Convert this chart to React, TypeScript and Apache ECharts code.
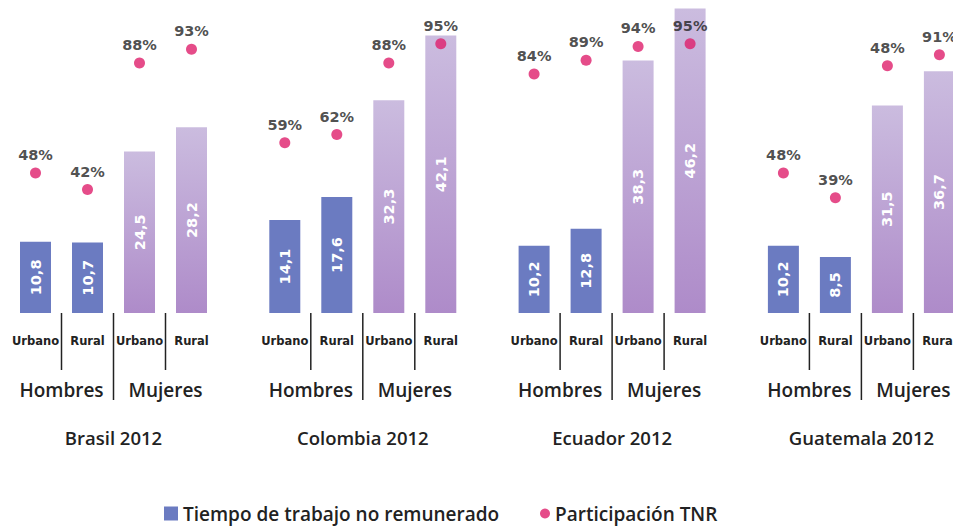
import React, { useEffect, useRef } from "react";
import * as echarts from "echarts";

const countries = ["Brasil 2012", "Colombia 2012", "Ecuador 2012", "Guatemala 2012"];
const categories = ["Urbano", "Rural", "Urbano", "Rural"];
const groups = ["Hombres", "Mujeres"];
const tiempo = [
  [10.8, 10.7, 24.5, 28.2],
  [14.1, 17.6, 32.3, 42.1],
  [10.2, 12.8, 38.3, 46.2],
  [10.2, 8.5, 31.5, 36.7],
];
const participacion = [
  [48, 42, 88, 93],
  [59, 62, 88, 95],
  [84, 89, 94, 95],
  [48, 39, 87, 91],
];
const participacionLabels = [
  ["48%", "42%", "88%", "93%"],
  ["59%", "62%", "88%", "95%"],
  ["84%", "89%", "94%", "95%"],
  ["48%", "39%", "48%", "91%"],
];
const BAR_NAME = "Tiempo de trabajo no remunerado";
const DOT_NAME = "Participación TNR";

const FONT = "Open Sans";
const BOLD_FONT = "DejaVu Sans";
const BLUE = "#6b7bc1";
const PINK = "#de1f6c";
const TEXT = "#222222";

export default function App() {
  const ref = useRef<HTMLDivElement>(null);
  useEffect(() => {
    if (!ref.current) return;
    const chart = echarts.init(ref.current, null, { renderer: "svg" });
    const grids: any[] = [];
    const xAxes: any[] = [];
    const yAxes: any[] = [];
    const series: any[] = [];
    countries.forEach((_, i) => {
      grids.push({ left: 9.5 + i * 249.3, top: 0, width: 208, height: 313 });
      xAxes.push({
        type: "category",
        gridIndex: i,
        data: categories,
        axisLine: { show: false },
        axisTick: { show: false },
        axisLabel: {
          margin: 22,
          fontSize: 11.5,
          fontWeight: "bold",
          fontFamily: BOLD_FONT,
          color: TEXT,
          interval: 0,
        },
      });
      yAxes.push({ type: "value", gridIndex: i, min: 0, max: 47.5, show: false });
      yAxes.push({ type: "value", gridIndex: i, min: -2.909, max: 110.909, show: false });
      series.push({
        type: "bar",
        name: BAR_NAME,
        xAxisIndex: i,
        yAxisIndex: 2 * i,
        barWidth: 31,
        itemStyle: { color: BLUE },
        data: tiempo[i].map((v, j) =>
          j < 2
            ? { value: v }
            : {
                value: v,
                itemStyle: {
                  color: new echarts.graphic.LinearGradient(0, 0, 0, 1, [
                    { offset: 0, color: "#cbbcdf" },
                    { offset: 1, color: "#ae8bc9" },
                  ]),
                },
              }
        ),
        label: {
          show: true,
          position: "inside",
          rotate: 90,
          color: "#ffffff",
          fontSize: 14.5,
          fontWeight: "bold",
          fontFamily: BOLD_FONT,
          formatter: (p: any) => String(p.value.toFixed(1)).replace(".", ","),
        },
      });
      series.push({
        type: "scatter",
        name: DOT_NAME,
        xAxisIndex: i,
        yAxisIndex: 2 * i + 1,
        symbol: "circle",
        symbolSize: 11,
        itemStyle: { color: PINK },
        data: participacion[i],
        label: {
          show: true,
          position: "top",
          distance: 5,
          color: TEXT,
          fontSize: 14.5,
          fontWeight: "bold",
          fontFamily: BOLD_FONT,
          formatter: (p: any) => participacionLabels[i][p.dataIndex],
        },
      });
    });

    chart.setOption({
      animation: false,
      backgroundColor: "#ffffff",
      grid: grids,
      xAxis: xAxes,
      yAxis: yAxes,
      series,
      legend: [
        {
          data: [{ name: BAR_NAME, icon: "rect" }],
          left: 164,
          top: 504,
          itemWidth: 14,
          itemHeight: 14,
          itemGap: 5,
          padding: 0,
          textStyle: { fontSize: 19, fontFamily: FONT, fontWeight: 600, color: TEXT },
        },
        {
          data: [{ name: DOT_NAME, icon: "circle" }],
          left: 540,
          top: 504,
          padding: 0,
          itemWidth: 10,
          itemHeight: 10,
          textStyle: { fontSize: 19, fontFamily: FONT, fontWeight: 600, color: TEXT },
        },
      ],
    });

    const graphics: any[] = [];
    countries.forEach((country, i) => {
      const cx = categories.map((_, j) => chart.convertToPixel({ xAxisIndex: i } as any, j) as number);
      const y0 = chart.convertToPixel({ yAxisIndex: 2 * i } as any, 0) as number;
      const seps = [0, 1, 2].map((k) => (cx[k] + cx[k + 1]) / 2);
      seps.forEach((sx, k) => {
        graphics.push({
          type: "line",
          shape: { x1: sx, y1: y0, x2: sx, y2: y0 + (k === 1 ? 87 : 57) },
          style: { stroke: TEXT, lineWidth: 1.5 },
        });
      });
      [seps[0], seps[2]].forEach((gx, g) => {
        graphics.push({
          type: "text",
          x: gx,
          y: y0 + 77,
          style: {
            text: groups[g],
            align: "center",
            verticalAlign: "middle",
            fontSize: 19,
            fontFamily: FONT,
            fontWeight: 600,
            fill: TEXT,
          },
        });
      });
      graphics.push({
        type: "text",
        x: seps[1],
        y: y0 + 124,
        style: {
          text: country,
          align: "center",
          verticalAlign: "middle",
          fontSize: 18.5,
          fontFamily: FONT,
          fontWeight: 600,
          fill: TEXT,
        },
      });
    });
    chart.setOption({ graphic: graphics });
    return () => chart.dispose();
  }, []);
  return (
    <div
      style={{
        position: "fixed",
        left: 0,
        top: 0,
        width: 953,
        height: 528,
        overflow: "hidden",
        background: "#fff",
      }}
    >
      <div ref={ref} style={{ width: 980, height: 528 }} />
    </div>
  );
}
